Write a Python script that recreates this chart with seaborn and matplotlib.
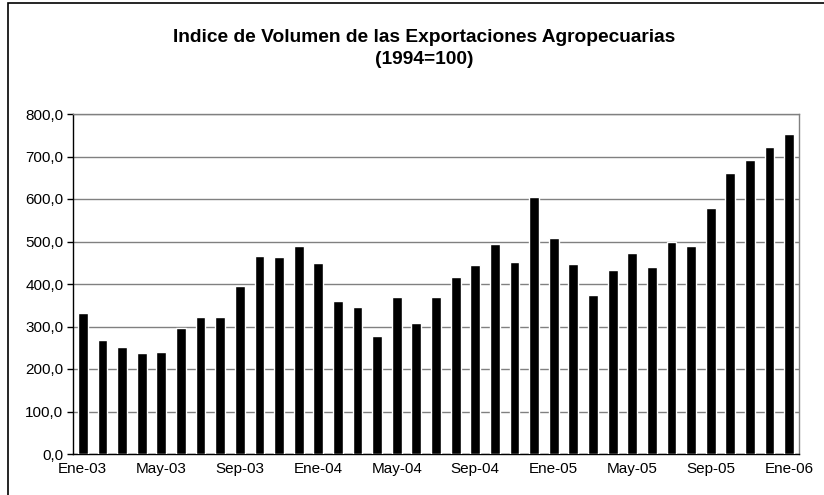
import matplotlib
matplotlib.use("Agg")
import matplotlib.pyplot as plt
import matplotlib.patches as patches
import seaborn as sns
import pandas as pd

# monthly index values, Ene-03 .. Ene-06
months = ["Ene", "Feb", "Mar", "Abr", "May", "Jun", "Jul", "Ago", "Sep", "Oct", "Nov", "Dic"]
periods = [f"{months[i % 12]}-{3 + i // 12:02d}" for i in range(37)]
values = [331, 269, 252, 238, 241, 297, 322, 322, 396, 467, 464, 489,
          449, 359, 345, 277, 370, 308, 370, 416, 444, 494, 452, 605,
          509, 447, 373, 433, 472, 441, 500, 489, 580, 662, 692, 723,
          754]
yticks = [0, 100, 200, 300, 400, 500, 600, 700, 800]

df = pd.DataFrame({"periodo": periods, "indice": values})

sns.set_style("white")
plt.rcParams["font.family"] = ["Liberation Sans", "DejaVu Sans"]
plt.rcParams["text.color"] = "black"
plt.rcParams["xtick.color"] = "black"
plt.rcParams["ytick.color"] = "black"

fig = plt.figure(figsize=(8.24, 4.95), dpi=100)
ax = fig.add_axes([73 / 824, 41 / 495, 726 / 824, 340 / 495])

# outer chart border
fig.patches.append(patches.Rectangle((8 / 824, -0.05), 1.0, 1 - 3 / 495 + 0.05,
                                     transform=fig.transFigure, fill=False,
                                     edgecolor="black", linewidth=1.2, zorder=0))

sns.barplot(data=df, x="periodo", y="indice", color="black", width=0.5,
            saturation=1, ax=ax, zorder=3)

ax.set_xlim(-0.5, len(periods) - 0.5)
ax.set_ylim(0, 800)
ax.set_yticks(yticks)
ax.set_yticklabels([f"{v:.1f}".replace(".", ",") for v in yticks], fontsize=11)
ax.yaxis.grid(True, color="#808080", linewidth=1, zorder=0)
ax.set_axisbelow(True)

lab_pos = list(range(0, len(periods), 4))
ax.set_xticks(lab_pos)
ax.set_xticklabels([periods[i] for i in lab_pos], fontsize=11)
ax.set_xticks([p - 0.5 for p in lab_pos], minor=True)
ax.tick_params(axis="x", which="major", length=0, pad=6)
ax.tick_params(axis="x", which="minor", length=4, width=1, color="black", direction="out")
ax.tick_params(axis="y", length=4, width=1, color="black", direction="out", left=True, pad=3)

ax.set_xlabel("")
ax.set_ylabel("")
for s in ["top", "right"]:
    ax.spines[s].set_color("#808080")
    ax.spines[s].set_linewidth(1)
for s in ["left", "bottom"]:
    ax.spines[s].set_color("black")
    ax.spines[s].set_linewidth(1)

fig.text(424 / 824, 1 - 37 / 495, "Indice de Volumen de las Exportaciones Agropecuarias",
         ha="center", va="center", fontsize=13.8, fontweight="bold")
fig.text(424 / 824, 1 - 59 / 495, "(1994=100)", ha="center", va="center",
         fontsize=13.8, fontweight="bold")

fig.savefig("out.png", dpi=100, facecolor="white")
